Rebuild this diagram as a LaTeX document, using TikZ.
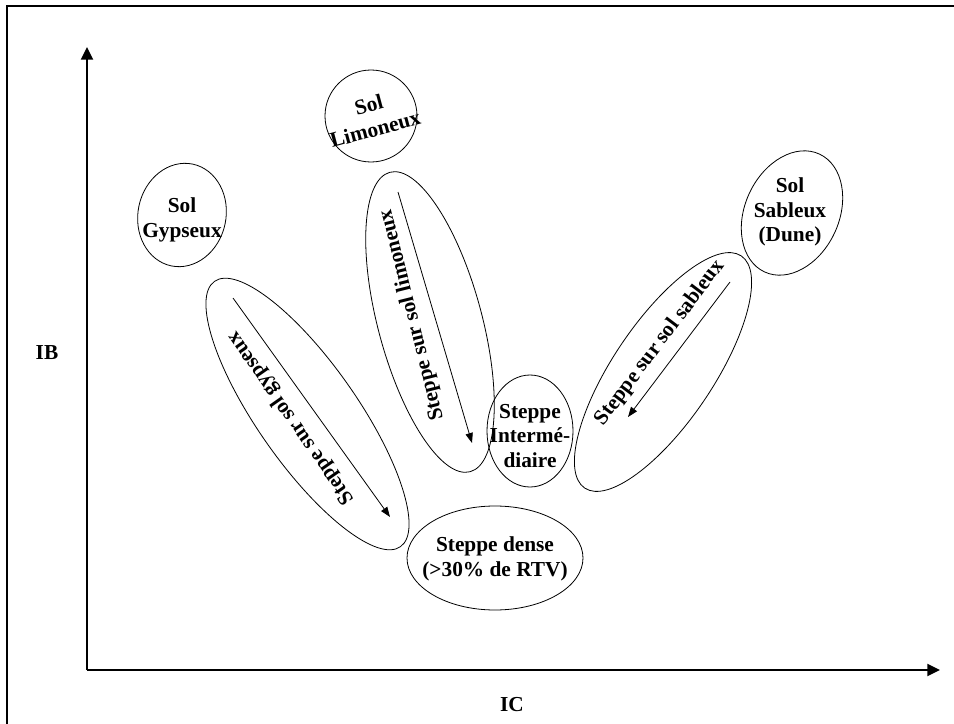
\documentclass[tikz,border=0pt]{standalone}
\usepackage{fontspec}
\setmainfont{Liberation Serif}
\usetikzlibrary{shapes.geometric,arrows.meta}

\tikzset{
	zone/.style={draw, ellipse, line width=0.6pt, inner sep=0pt},
	lbl/.style={font=\fontsize{16}{18.5}\selectfont\bfseries, align=center, inner sep=0pt},
	axe/.style={line width=1.6pt, -{Triangle[length=9.5pt,width=9pt]}},
	trend/.style={line width=0.6pt, -{Triangle[length=7.5pt,width=5.5pt]}}
}

\begin{document}
\begin{tikzpicture}[x=0.75pt, y=-0.75pt]
	\useasboundingbox (0,0) rectangle (954,724);
	\draw[line width=1.5pt] (7,6) rectangle (970,740);
	
	% axes
	\coordinate (o) at (87,670);
	\coordinate (ytip) at (87,47);
	\coordinate (xtip) at (940,670);
	\draw[axe] (o) -- (ytip);
	\draw[axe] (o) -- (xtip);
	\node[lbl] (ib) at (47,353) {IB};
	\node[lbl] (ic) at (512,705) {IC};
	
	% sols
	\node[zone, minimum width=66pt, minimum height=78pt, rotate=-12] (gyp) at (182,215) {};
	\node[zone, minimum width=69pt, minimum height=69pt] (lim) at (371,116) {};
	\node[zone, minimum width=97.5pt, minimum height=70.5pt, rotate=65] (sab) at (792,213) {};
	\node[lbl] (gyptxt) at (182,220) {Sol\\Gypseux};
	\node[lbl, rotate=15] (limtxt) at (372,117) {Sol\\Limoneux};
	\node[lbl] (sabtxt) at (790,212) {Sol\\Sableux\\(Dune)};
	
	% steppes
	\node[zone, minimum width=243pt, minimum height=75pt, rotate=-55] (sgyp) at (307.5,414) {};
	\node[zone, minimum width=232.5pt, minimum height=78pt, rotate=-75] (slim) at (430,322) {};
	\node[zone, minimum width=210pt, minimum height=75pt, rotate=56] (ssab) at (663,372) {};
	\node[zone, minimum width=64.5pt, minimum height=84pt] (inter) at (530,431) {};
	\node[zone, minimum width=132pt, minimum height=78pt] (dense) at (495,558) {};
	
	\node[lbl, rotate=125] (sgyptxt) at (291,418) {Steppe sur sol gypseux};
	\node[lbl, rotate=104] (slimtxt) at (412,315) {Steppe sur sol limoneux};
	\node[lbl, rotate=53] (ssabtxt) at (660,343) {Steppe sur sol sableux};
	\node[lbl] (intertxt) at (530,436) {Steppe\\Intermé-\\diaire};
	\node[lbl] (densetxt) at (495,559) {Steppe dense\\(>30\% de RTV)};
	
	% fleches
	\coordinate (g1) at (233,298);
	\coordinate (g2) at (390,517);
	\coordinate (l1) at (398,192);
	\coordinate (l2) at (472,443);
	\coordinate (s1) at (730,282);
	\coordinate (s2) at (628,417);
	\draw[trend] (g1) -- (g2);
	\draw[trend] (l1) -- (l2);
	\draw[trend] (s1) -- (s2);
\end{tikzpicture}
\end{document}
